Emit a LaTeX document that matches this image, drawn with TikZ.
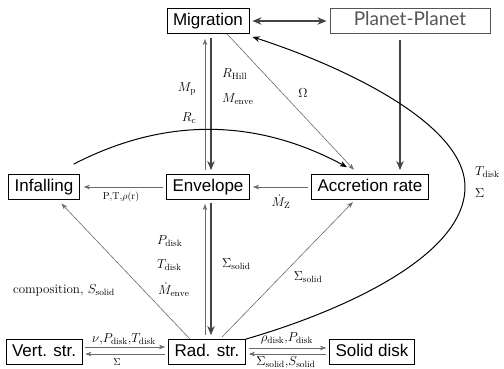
\RequirePackage{fix-cm}
\documentclass[tikz,border=0pt]{standalone}
\usepackage{fontspec}
\setsansfont{Liberation Sans}
\newfontfamily\ppfont{Lato}
\usepackage{xcolor}
\usepackage{tikz}
\usetikzlibrary{arrows.meta}
\definecolor{fbLine}{HTML}{6A6A6A}
\definecolor{fbDark}{HTML}{444444}
\definecolor{fbPlanet}{HTML}{555555}
\tikzset{
  bigtip/.tip={Stealth[length=3.2mm, width=2.6mm]},
  block/.style={
    rectangle, draw=black, line width=0.8pt, fill=white,
    inner xsep=6pt, inner ysep=4.5pt,
    text height=12.5pt, text depth=3.5pt,
    font=\sffamily\fontsize{17}{20}\selectfont
  },
  ppblock/.style={
    block, draw=fbPlanet, text=fbPlanet,
    font=\ppfont\fontsize{19}{22}\selectfont,
    minimum width=160pt
  },
  arrow/.style={
    -{Stealth[length=2.2mm, width=1.6mm]},
    fbLine, line width=0.6pt
  },
  thickarrow/.style={
    -bigtip, fbDark, line width=1.4pt
  },
  curvearrow/.style={
    -{Stealth[length=2.6mm, width=2.0mm]},
    black, line width=1.0pt
  },
  lbl/.style={font=\fontsize{13}{15}\selectfont, inner sep=0pt},
  smalllbl/.style={font=\fontsize{10}{12}\selectfont, inner sep=0pt}
}

\begin{document}
\begin{tikzpicture}[x=1pt, y=-1pt]
  \useasboundingbox (0,0) rectangle (504,368);

  % blocks
  \node[block] (mig) at (208,21) {Migration};
  \node[ppblock] (pp) at (410,21) {Planet-Planet};
  \node[block] (inf) at (44,187) {Infalling};
  \node[block] (env) at (208,187) {Envelope};
  \node[block] (acc) at (370,187) {Accretion rate};
  \node[block] (vert) at (44,352) {Vert. str.};
  \node[block] (rad) at (207,352) {Rad. str.};
  \node[block] (solid) at (372,352) {Solid disk};
  \coordinate (bend) at (465,187);

  % top row
  \draw[thickarrow, bigtip-bigtip, shorten <=3pt, shorten >=3pt] (mig) -- (pp);
  \draw[thickarrow, shorten <=6pt, shorten >=4pt] ([xshift=-10pt]pp.south) -- ([xshift=-10pt]pp.south |- acc.north);

  % migration / envelope
  \draw[arrow, shorten <=4pt, shorten >=5pt] ([xshift=-3pt]env.north) -- ([xshift=-3pt]mig.south);
  \draw[thickarrow, shorten <=4pt, shorten >=4pt] ([xshift=3pt]mig.south) -- ([xshift=3pt]env.north);
  \draw[arrow, shorten >=6pt] ([xshift=19pt]mig.south) -- ([xshift=-12pt]acc.north);
  \draw[curvearrow] ([xshift=-6pt,yshift=10pt]inf.north east) .. controls +(91,-47) and +(-91,-49) .. ([xshift=-23pt,yshift=7pt]acc.north);

  % middle row
  \draw[arrow, shorten <=3pt, shorten >=4pt] (env) -- (inf);
  \draw[arrow, shorten <=3pt, shorten >=3pt] (acc) -- (env);

  % envelope / rad. str.
  \draw[arrow, shorten <=4pt, shorten >=4pt] ([xshift=-3pt]env.south |- rad.north) -- ([xshift=-3pt]env.south);
  \draw[thickarrow, shorten <=3pt, shorten >=4pt] ([xshift=3pt]env.south) -- ([xshift=3pt]env.south |- rad.north);
  \draw[arrow, shorten >=5pt] ([xshift=-17pt]rad.north) -- ([xshift=14pt]inf.south);
  \draw[arrow, shorten <=3pt, shorten >=3pt] ([xshift=13pt]rad.north) -- ([xshift=-15pt]acc.south);
  \draw[curvearrow] (rad.north east) .. controls +(100,-29) and +(0,68) .. (bend)
    .. controls +(0,-67) and +(78,25) .. ([xshift=3pt,yshift=-3pt]mig.south east);

  % bottom row
  \draw[arrow, shorten <=3pt, shorten >=3pt] ([yshift=5pt]vert.east) -- ([yshift=5pt]vert.east -| rad.west);
  \draw[arrow, shorten <=3pt, shorten >=3pt] ([yshift=-2pt]rad.west) -- ([yshift=-2pt]rad.west -| vert.east);
  \draw[arrow, shorten <=3pt, shorten >=3pt] ([yshift=4pt]rad.east) -- ([yshift=4pt]rad.east -| solid.west);
  \draw[arrow, shorten <=3pt, shorten >=3pt] ([yshift=-2pt]solid.west) -- ([yshift=-2pt]solid.west -| rad.east);

  % labels
  \node[lbl] (lMp) at (187,89) {$M_{\mathrm{p}}$};
  \node[lbl] (lRc) at (189,118) {$R_{\mathrm{c}}$};
  \node[lbl, anchor=west] (lRhill) at (222,74) {$R_{\mathrm{Hill}}$};
  \node[lbl, anchor=west] (lMenve) at (222,99) {$M_{\mathrm{enve}}$};
  \node[lbl] (lOmega) at (303,93) {$\Omega$};
  \node[lbl, anchor=west] (lTdiskR) at (475,172) {$T_{\mathrm{disk}}$};
  \node[lbl, anchor=west] (lSigmaR) at (475,193) {$\Sigma$};
  \node[smalllbl] (lPT) at (121,197) {$\mathrm{P{,}T{,}}\rho\mathrm{(r)}$};
  \node[lbl] (lMz) at (281,202) {$\dot M_{\mathrm{Z}}$};
  \node[lbl, anchor=west] (lPdisk) at (157,241) {$P_{\mathrm{disk}}$};
  \node[lbl, anchor=west] (lTdisk) at (157,265) {$T_{\mathrm{disk}}$};
  \node[lbl, anchor=west] (lMdot) at (158,290) {$\dot M_{\mathrm{enve}}$};
  \node[lbl, anchor=west] (lSolidV) at (222,264) {$\Sigma_{\mathrm{solid}}$};
  \node[lbl] (lSolidD) at (308,277) {$\Sigma_{\mathrm{solid}}$};
  \node[lbl] (lComp) at (64,290) {composition, $S_{\mathrm{solid}}$};
  \node[lbl] (lNu) at (124,339) {$\nu{,}P_{\mathrm{disk}}{,}T_{\mathrm{disk}}$};
  \node[smalllbl] (lSigmaV) at (117,362) {$\Sigma$};
  \node[lbl] (lRho) at (287,338) {$\rho_{\mathrm{disk}}{,}P_{\mathrm{disk}}$};
  \node[lbl] (lSolidS) at (286,362) {$\Sigma_{\mathrm{solid}}{,}S_{\mathrm{solid}}$};
\end{tikzpicture}
\end{document}
